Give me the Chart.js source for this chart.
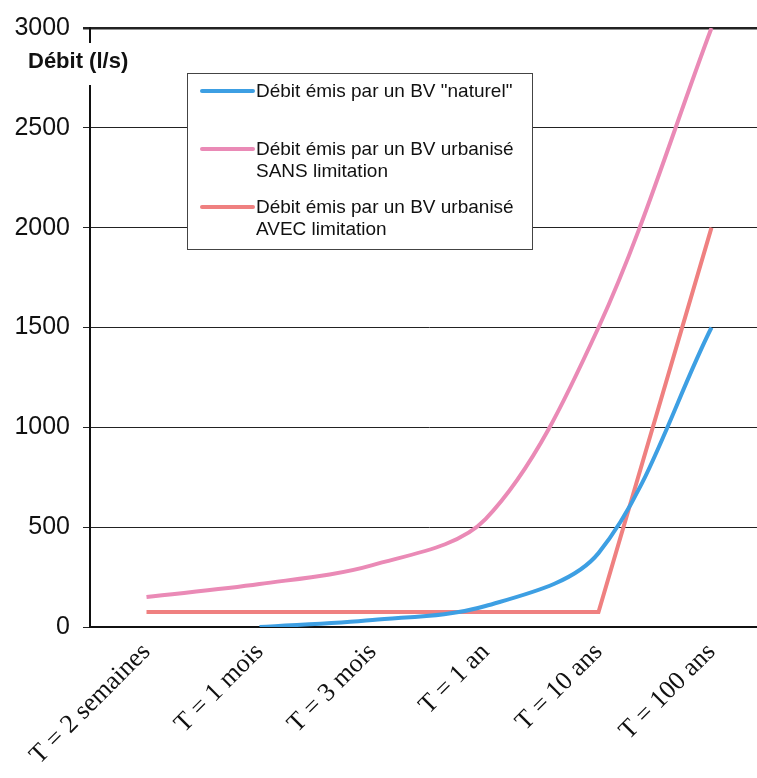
<!DOCTYPE html>
<html>
<head>
<meta charset="utf-8">
<script src="https://cdn.jsdelivr.net/npm/chart.js@4.4.1/dist/chart.umd.min.js"></script>
<style>
  html, body { margin: 0; padding: 0; background: #fff; overflow: hidden; }
  #wrap { position: relative; width: 775px; height: 778px; }
</style>
</head>
<body>
<div id="wrap"><canvas id="chart" width="775" height="778"></canvas></div>
<script>
// données
const periodes = ['T = 2 semaines', 'T = 1 mois', 'T = 3 mois', 'T = 1 an', 'T = 10 ans', 'T = 100 ans'];
const debitNaturel = [null, 0, 35, 105, 370, 1500];
const debitSansLimitation = [150, 215, 310, 540, 1500, 3000];
const debitAvecLimitation = [75, 75, 75, 75, 75, 2000];
const yMin = 0, yMax = 3000, yPas = 500;
const titreAxe = 'Débit (l/s)';
const legendes = [
  'Débit émis par un BV "naturel"',
  'Débit émis par un BV urbanisé\nSANS limitation',
  'Débit émis par un BV urbanisé\nAVEC limitation'
];

const couleurs = ['#3d9fe3', '#ea8ab6', '#ef8080'];

// légende encadrée + titre de l'axe, dessinés à la main
const legendeExcel = {
  id: 'legendeExcel',
  afterDraw(chart) {
    const ctx = chart.ctx;
    const area = chart.chartArea;
    ctx.save();

    // titre de l'axe Y (fond blanc qui coupe l'axe)
    ctx.font = 'bold 22px "Liberation Sans", Arial, sans-serif';
    ctx.textBaseline = 'middle';
    const w = ctx.measureText(titreAxe).width;
    ctx.fillStyle = '#fff';
    ctx.fillRect(26, area.top + 15, w + 6, 42);
    ctx.fillStyle = '#111';
    ctx.fillText(titreAxe, 28, area.top + 34);

    // cadre
    const bx = area.left + 97, by = area.top + 45, bw = 345, bh = 176;
    ctx.fillStyle = '#fff';
    ctx.fillRect(bx, by, bw, bh);
    ctx.strokeStyle = '#444';
    ctx.lineWidth = 1;
    ctx.strokeRect(bx + 0.5, by + 0.5, bw, bh);

    const rows = [18, 76, 134];
    ctx.font = '19px "Liberation Sans", Arial, sans-serif';
    chart.data.datasets.forEach((ds, i) => {
      const y = by + rows[i];
      ctx.strokeStyle = ds.borderColor;
      ctx.lineWidth = 4;
      ctx.lineCap = 'round';
      ctx.beginPath();
      ctx.moveTo(bx + 15, y);
      ctx.lineTo(bx + 66, y);
      ctx.stroke();
      ctx.fillStyle = '#111';
      legendes[i].split('\n').forEach((l, k) => {
        ctx.fillText(l, bx + 69, y + 1 + k * 22);
      });
    });
    ctx.restore();
  }
};

new Chart(document.getElementById('chart'), {
  type: 'line',
  data: {
    labels: periodes,
    datasets: [{
      label: legendes[0],
      data: debitNaturel,
      borderColor: couleurs[0],
      borderWidth: 4,
      tension: 0.33,
      pointRadius: 0
    }, {
      label: legendes[1],
      data: debitSansLimitation,
      borderColor: couleurs[1],
      borderWidth: 4,
      tension: 0.33,
      pointRadius: 0
    }, {
      label: legendes[2],
      data: debitAvecLimitation,
      borderColor: couleurs[2],
      borderWidth: 4,
      tension: 0,
      pointRadius: 0
    }]
  },
  options: {
    responsive: false,
    animation: false,
    devicePixelRatio: 1,
    layout: { padding: { top: 19, right: 7, left: 0, bottom: 0 } },
    plugins: {
      legend: { display: false },
      tooltip: { enabled: false }
    },
    scales: {
      x: {
        offset: true,
        grid: { display: false },
        border: { display: true, color: '#111', width: 2 },
        ticks: {
          maxRotation: 45,
          minRotation: 45,
          padding: 2,
          color: '#111',
          font: { family: '"Liberation Serif", "Times New Roman", serif', size: 26 }
        },
        afterFit(scale) { scale.height = 151; }
      },
      y: {
        min: yMin,
        max: yMax,
        ticks: {
          stepSize: yPas,
          padding: 13,
          color: '#111',
          font: { family: '"Liberation Sans", Arial, sans-serif', size: 25 },
          callback: (v) => String(v)
        },
        grid: {
          color: '#222',
          lineWidth: (c) => (c.tick && c.tick.value === yMax ? 2.5 : 1),
          tickLength: 7
        },
        border: { display: true, color: '#111', width: 2 },
        afterFit(scale) { scale.width = 90; }
      }
    }
  },
  plugins: [legendeExcel]
});
</script>
</body>
</html>
